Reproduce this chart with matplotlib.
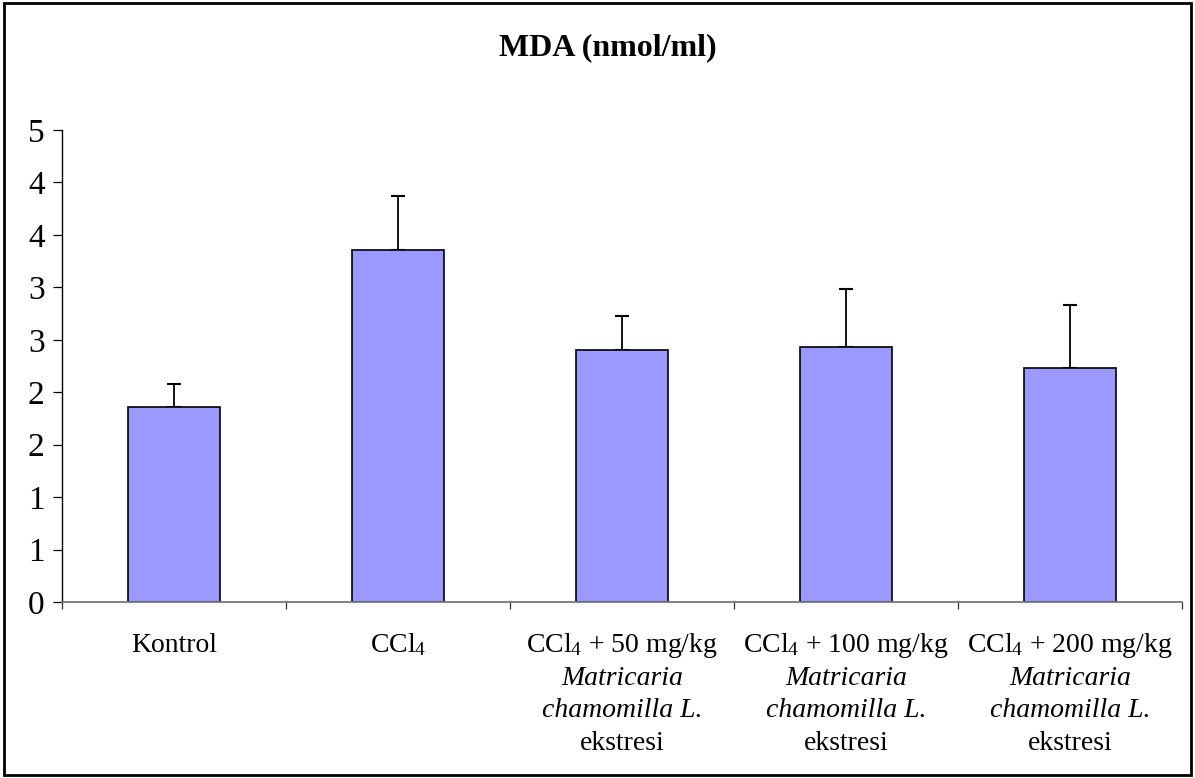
import numpy as np
import matplotlib
matplotlib.use('Agg')
import matplotlib.pyplot as plt
from matplotlib.patches import Rectangle
from matplotlib.ticker import FixedLocator, FixedFormatter

plt.rcParams['font.family'] = ['Liberation Serif', 'DejaVu Serif']
plt.rcParams['mathtext.fontset'] = 'custom'
plt.rcParams['mathtext.rm'] = 'Liberation Serif'
plt.rcParams['mathtext.it'] = 'Liberation Serif:italic'

# MDA values
groups = ['Kontrol', 'CCl4', 'CCl4 + 50', 'CCl4 + 100', 'CCl4 + 200']
mda_mean = [1.86, 3.36, 2.40, 2.43, 2.23]
mda_err = [0.22, 0.51, 0.33, 0.55, 0.60]

# first line of each x label, then the italic lines and the last line
label_top = ['Kontrol', 'CCl$_4$', 'CCl$_4$ + 50 mg/kg',
             'CCl$_4$ + 100 mg/kg', 'CCl$_4$ + 200 mg/kg']
label_italic = [[], [], ['Matricaria', 'chamomilla L.'],
                ['Matricaria', 'chamomilla L.'], ['Matricaria', 'chamomilla L.']]
label_bottom = ['', '', 'ekstresi', 'ekstresi', 'ekstresi']

y_ticks = [0, 0.5, 1.0, 1.5, 2.0, 2.5, 3.0, 3.5, 4.0, 4.5]
y_tick_labels = ['0', '1', '1', '2', '2', '3', '3', '4', '4', '5']

W, H = 1195, 778
fig = plt.figure(figsize=(W / 100, H / 100), dpi=100)
ax = fig.add_axes([62 / W, 1 - 602 / H, (1182 - 62) / W, (602 - 130) / H])

x = np.arange(len(groups))
ax.bar(x, mda_mean, width=0.41, color='#9999FF', edgecolor='black', linewidth=1.2, zorder=2)
ax.errorbar(x, mda_mean, yerr=[np.zeros(len(x)), mda_err], fmt='none',
            ecolor='black', elinewidth=1.3, capsize=5, capthick=1.5, zorder=1)

ax.set_xlim(-0.5, len(groups) - 0.5)
ax.set_ylim(0, 4.5)
ax.yaxis.set_major_locator(FixedLocator(y_ticks))
ax.yaxis.set_major_formatter(FixedFormatter(y_tick_labels))
ax.set_xticks(np.arange(-0.5, len(groups), 1.0))
ax.set_xticklabels([])

for s in ['top', 'right']:
    ax.spines[s].set_visible(False)
ax.spines['left'].set_linewidth(1.0)
ax.spines['bottom'].set_color('#777777')
ax.spines['bottom'].set_linewidth(1.3)
ax.tick_params(axis='y', direction='out', length=6.5, width=0.9, labelsize=24, pad=6)
ax.tick_params(axis='x', direction='out', length=5, width=0.9, color='#333333')

# x labels, line by line (some lines italic)
for i in range(len(groups)):
    lines = [(label_top[i], 'normal')]
    lines += [(t, 'italic') for t in label_italic[i]]
    if label_bottom[i]:
        lines.append((label_bottom[i], 'normal'))
    for k, (txt, st) in enumerate(lines):
        ax.annotate(txt, xy=(x[i], 0), xycoords=('data', 'axes fraction'),
                    xytext=(0, -50 - 32.7 * k), textcoords='offset pixels',
                    ha='center', va='baseline', fontsize=20, style=st)

fig.text(608 / W, 1 - 48 / H, 'MDA (nmol/ml)', ha='center', va='center',
         fontsize=23, fontweight='bold')

# frame round the whole chart
fig.patches.append(Rectangle((4 / W, 3 / H), (W - 8) / W, (H - 6) / H,
                             transform=fig.transFigure, fill=False,
                             edgecolor='black', linewidth=2))

fig.savefig('out.png', dpi=100)
